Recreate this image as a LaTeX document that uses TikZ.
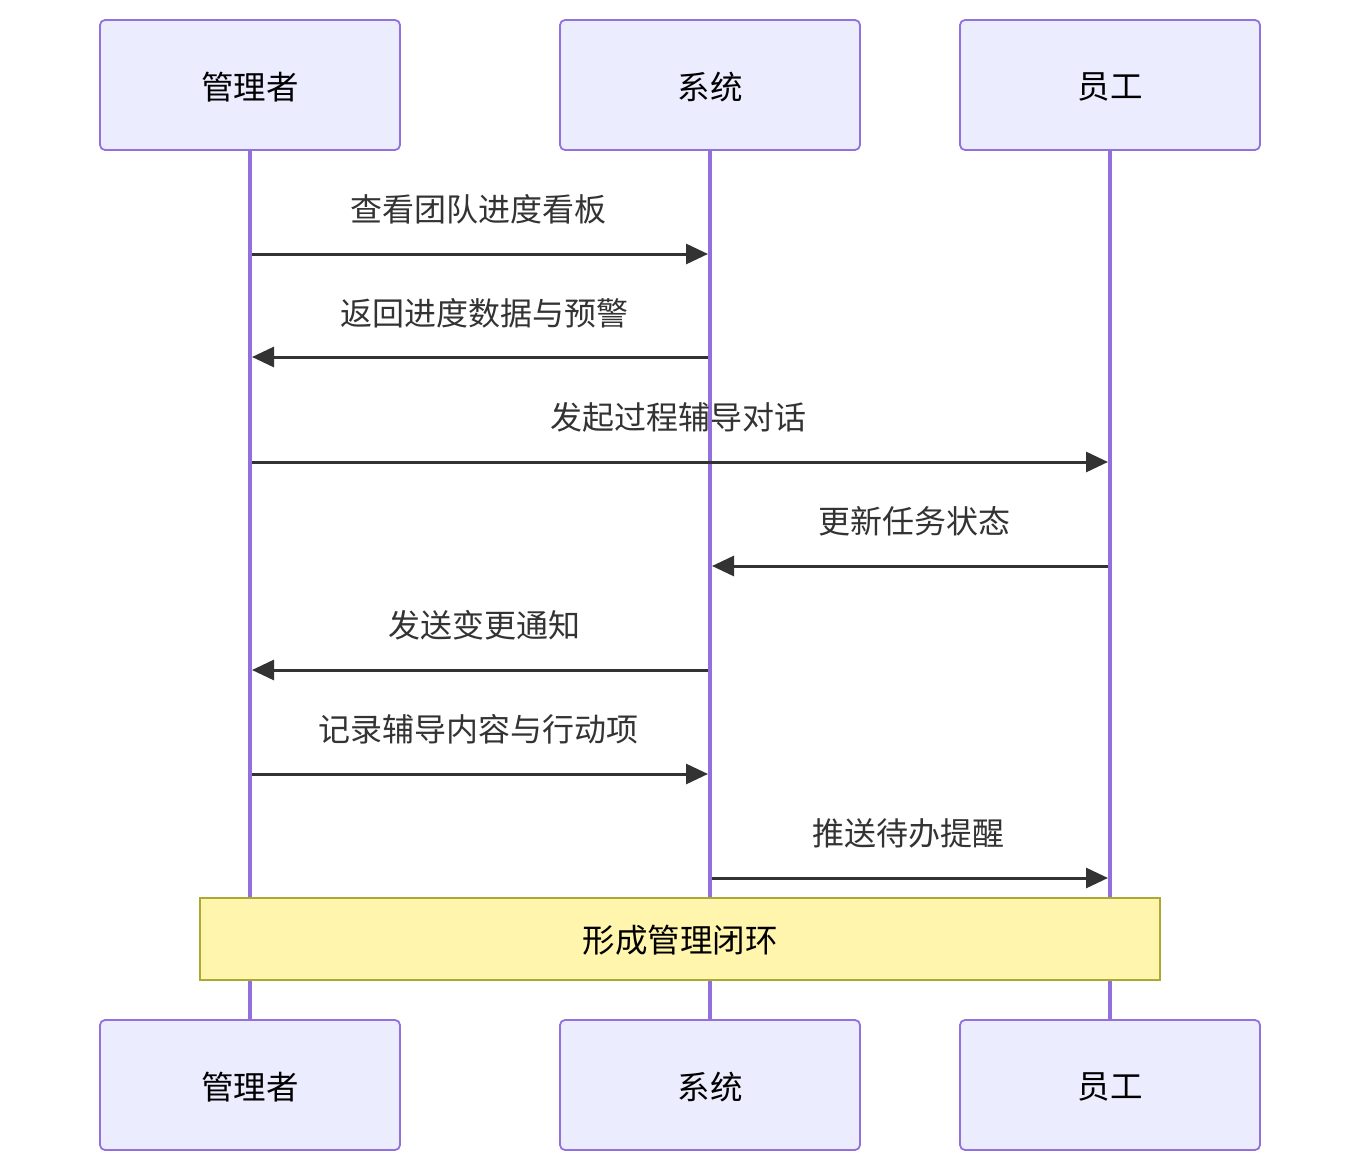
\documentclass[tikz,border=0pt]{standalone}
\usepackage{fontspec}
\setmainfont{Noto Sans CJK SC}
\usetikzlibrary{arrows.meta}
\definecolor{actfill}{HTML}{ECECFF}
\definecolor{actline}{HTML}{9370DB}
\definecolor{notefill}{HTML}{FFF5AD}
\definecolor{noteline}{HTML}{AAAA33}
\definecolor{msg}{HTML}{333333}
\tikzset{
  actor/.style={draw=actline, fill=actfill, line width=1.8pt, rounded corners=5pt,
    minimum width=300pt, minimum height=130pt, inner sep=0pt, font=\fontsize{32.5}{36}\selectfont, text=black},
  actortext/.style={inner sep=0pt, font=\fontsize{32.5}{36}\selectfont, text=black},
  life/.style={draw=actline, line width=3.6pt},
  msgline/.style={draw=msg, line width=3pt, -{Triangle[length=22pt,width=20pt]}},
  msglabel/.style={font=\fontsize{32}{34}\selectfont, text=msg, inner sep=0pt},
  notebox/.style={draw=noteline, fill=notefill, line width=1.8pt, minimum width=960pt,
    minimum height=82pt, inner sep=0pt, font=\fontsize{32.5}{36}\selectfont, text=black}
}
\begin{document}
\begin{tikzpicture}[x=1pt,y=-1pt]
\useasboundingbox (0,0) rectangle (1360,1172);
% lifelines
\coordinate (la1) at (250,150); \coordinate (lb1) at (250,1020);
\coordinate (la2) at (710,150); \coordinate (lb2) at (710,1020);
\coordinate (la3) at (1110,150); \coordinate (lb3) at (1110,1020);
\draw[life] (la1) -- (lb1);
\draw[life] (la2) -- (lb2);
\draw[life] (la3) -- (lb3);
% actors
\node[actor] (m) at (250,85) {};
\node[actor] (s) at (710,85) {};
\node[actor] (e) at (1110,85) {};
\node[actor] (mb) at (250,1085) {};
\node[actor] (sb) at (710,1085) {};
\node[actor] (eb) at (1110,1085) {};
\node[actortext] at ([yshift=-2pt]m.center) {管理者};
\node[actortext] at ([yshift=-2pt]s.center) {系统};
\node[actortext] at ([yshift=-2pt]e.center) {员工};
\node[actortext] at ([yshift=-2pt]mb.center) {管理者};
\node[actortext] at ([yshift=-2pt]sb.center) {系统};
\node[actortext] at ([yshift=-2pt]eb.center) {员工};
% message anchor coordinates
\foreach \i/\y in {1/254,2/357,3/462,4/566,5/670,6/774,7/878}{
  \coordinate (m\i) at (252,\y);
  \coordinate (s\i) at (708,\y);
  \coordinate (sr\i) at (712,\y);
  \coordinate (e\i) at (1108,\y);
}
\draw[msgline] (m1) -- (s1);
\node[msglabel] at (478,209) {查看团队进度看板};
\draw[msgline] (s2) -- (m2);
\node[msglabel] at (484,313) {返回进度数据与预警};
\draw[msgline] (m3) -- (e3);
\node[msglabel] at (678,417) {发起过程辅导对话};
\draw[msgline] (e4) -- (sr4);
\node[msglabel] at (914,521) {更新任务状态};
\draw[msgline] (s5) -- (m5);
\node[msglabel] at (484,625) {发送变更通知};
\draw[msgline] (m6) -- (s6);
\node[msglabel] at (478,729) {记录辅导内容与行动项};
\draw[msgline] (sr7) -- (e7);
\node[msglabel] at (908,833) {推送待办提醒};
% note
\node[notebox] (note) at (680,939) {};
\node[actortext] at ([yshift=-1pt]note.center) {形成管理闭环};
\end{tikzpicture}
\end{document}
